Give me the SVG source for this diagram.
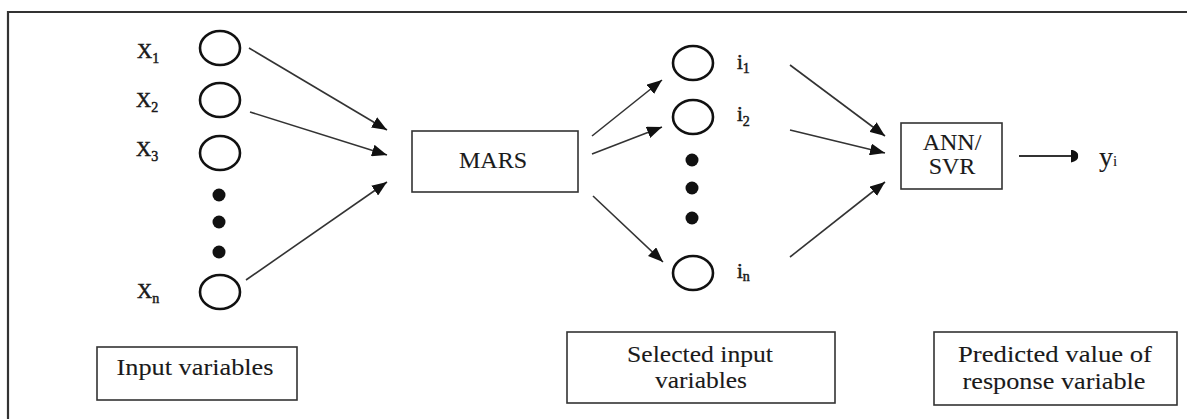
<svg xmlns="http://www.w3.org/2000/svg" width="1187" height="419" viewBox="0 0 1187 419">
<style>
  text { font-family: "Liberation Serif", "Times New Roman", "DejaVu Serif", serif; fill: #1a1a1a; stroke: #1a1a1a; stroke-width: 0.1; }
  .lbl { font-size: 24px; text-anchor: middle; }
  .var { font-size: 21px; stroke-width: 0.5; }
  .sub { font-size: 14px; }
  .node { fill: none; stroke: #111; stroke-width: 2.6; }
  .dot { fill: #111; }
  .box { fill: #fff; stroke: #333; stroke-width: 1.6; }
  .edge { stroke: #333; stroke-width: 1.6; fill: none; marker-end: url(#arr); }
</style>
<defs>
  <marker id="arr" markerUnits="userSpaceOnUse" markerWidth="16" markerHeight="12" refX="15" refY="6" orient="auto">
    <path d="M0,0 L15,6 L0,12 z" fill="#111"/>
  </marker>
  <marker id="arr2" markerUnits="userSpaceOnUse" markerWidth="8" markerHeight="13" refX="7" refY="6.5" orient="auto">
    <path d="M0,0 Q8,2 7,6.5 Q8,11 0,13 z" fill="#111"/>
  </marker>
</defs>

<g id="frame">
  <path d="M8,425 L8,12 L1195,12" fill="none" stroke="#333" stroke-width="2.2"/>
</g>

<g id="input-x1">
  <ellipse class="node" cx="220" cy="48" rx="20" ry="17"/>
  <text class="var" x="137" y="58">X<tspan class="sub" dy="5">1</tspan></text>
</g>
<g id="input-x2">
  <ellipse class="node" cx="220" cy="100" rx="20" ry="17"/>
  <text class="var" x="136" y="107">X<tspan class="sub" dy="5">2</tspan></text>
</g>
<g id="input-x3">
  <ellipse class="node" cx="220" cy="153" rx="20" ry="17"/>
  <text class="var" x="136" y="156">X<tspan class="sub" dy="5">3</tspan></text>
</g>
<g id="input-dots">
  <circle class="dot" cx="219" cy="195" r="6.5"/>
  <circle class="dot" cx="219" cy="222" r="6.5"/>
  <circle class="dot" cx="219" cy="252" r="6.5"/>
</g>
<g id="input-xn">
  <ellipse class="node" cx="220" cy="292" rx="20" ry="17"/>
  <text class="var" x="137" y="298">X<tspan class="sub" dy="5">n</tspan></text>
</g>

<g id="mars">
  <rect class="box" x="412" y="131" width="166" height="61"/>
  <text class="lbl" x="493" y="168" font-size="23">MARS</text>
</g>

<g id="sel-i1">
  <ellipse class="node" cx="693" cy="63" rx="20" ry="17"/>
  <text class="var" x="737" y="69" font-size="23">i<tspan class="sub" dy="4">1</tspan></text>
</g>
<g id="sel-i2">
  <ellipse class="node" cx="693" cy="117" rx="20" ry="17"/>
  <text class="var" x="737" y="121" font-size="23">i<tspan class="sub" dy="5">2</tspan></text>
</g>
<g id="sel-dots">
  <circle class="dot" cx="692" cy="160" r="6.5"/>
  <circle class="dot" cx="692" cy="188" r="6.5"/>
  <circle class="dot" cx="692" cy="218" r="6.5"/>
</g>
<g id="sel-in">
  <ellipse class="node" cx="693" cy="273" rx="20" ry="17"/>
  <text class="var" x="737" y="278" font-size="23">i<tspan class="sub" dy="3">n</tspan></text>
</g>

<g id="ann-svr">
  <rect class="box" x="901" y="123" width="101" height="66"/>
  <text class="lbl" x="952" y="150" font-size="23">ANN/</text>
  <text class="lbl" x="952" y="174" font-size="23">SVR</text>
</g>

<g id="output-y">
  <text x="1099" y="166" font-size="28">y<tspan font-size="15">i</tspan></text>
</g>

<g id="label-input">
  <rect class="box" x="97" y="347" width="200" height="53"/>
  <text class="lbl" x="195" y="375" textLength="157" lengthAdjust="spacingAndGlyphs">Input variables</text>
</g>
<g id="label-selected">
  <rect class="box" x="567" y="332" width="268" height="71"/>
  <text class="lbl" x="700" y="362" textLength="146" lengthAdjust="spacingAndGlyphs">Selected input</text>
  <text class="lbl" x="701" y="388" textLength="92" lengthAdjust="spacingAndGlyphs">variables</text>
</g>
<g id="label-predicted">
  <rect class="box" x="934" y="332" width="243" height="73"/>
  <text class="lbl" x="1055" y="362" textLength="194" lengthAdjust="spacingAndGlyphs">Predicted value of</text>
  <text class="lbl" x="1054" y="389" textLength="183" lengthAdjust="spacingAndGlyphs">response variable</text>
</g>

<g id="connectors">
  <line class="edge" x1="249" y1="48" x2="387" y2="130"/>
  <line class="edge" x1="250" y1="112" x2="387" y2="155"/>
  <line class="edge" x1="246" y1="280" x2="387" y2="182"/>
  <line class="edge" x1="592" y1="136" x2="662" y2="80"/>
  <line class="edge" x1="592" y1="154" x2="662" y2="127"/>
  <line class="edge" x1="593" y1="196" x2="663" y2="262"/>
  <line class="edge" x1="790" y1="65" x2="885" y2="136"/>
  <line class="edge" x1="790" y1="130" x2="885" y2="153"/>
  <line class="edge" x1="790" y1="257" x2="885" y2="182"/>
  <line x1="1019" y1="156" x2="1078" y2="156" stroke="#333" stroke-width="1.8" marker-end="url(#arr2)"/>
</g>
</svg>
